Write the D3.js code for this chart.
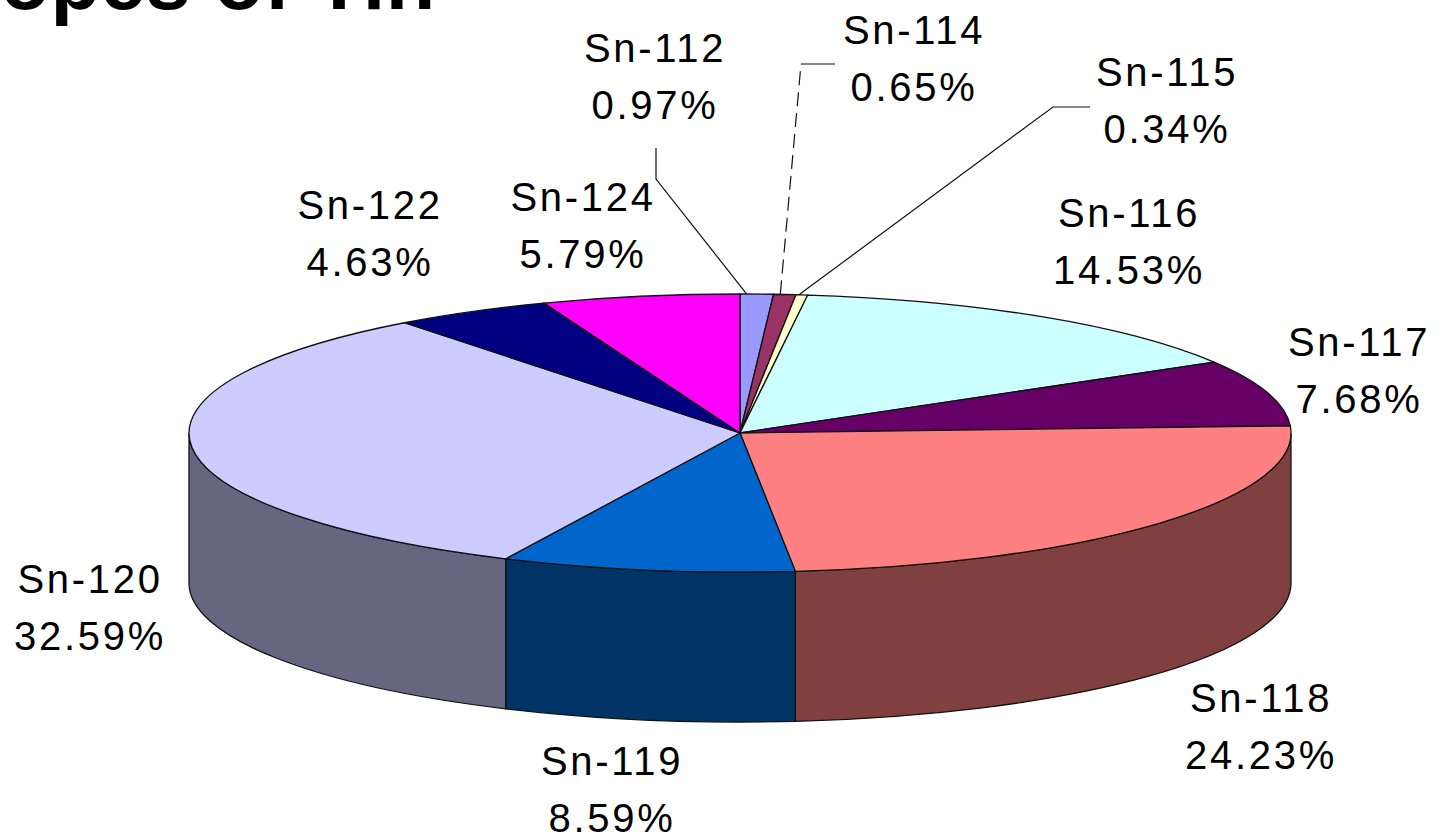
<!DOCTYPE html>
<html>
<head>
<meta charset="utf-8">
<script src="https://d3js.org/d3.v7.min.js"></script>
<style>
  html, body { margin:0; padding:0; background:#fff; overflow:hidden; }
  svg { display:block; }
  text { font-family:"Liberation Sans", Arial, sans-serif; fill:#000; }
  .lbl { font-size:40px; letter-spacing:2.7px; text-anchor:middle; }
  .title { font-size:81px; font-weight:bold; letter-spacing:0.4px; }
</style>
</head>
<body>
<svg id="chart" width="1439" height="836"></svg>
<script>
const isotopes = ["Sn-112","Sn-114","Sn-115","Sn-116","Sn-117","Sn-118","Sn-119","Sn-120","Sn-122","Sn-124"];
const abundance = [0.97,0.65,0.34,14.53,7.68,24.23,8.59,32.59,4.63,5.79];
const topColors = ["#9999ff","#993366","#ffffcc","#ccffff","#660066","#ff8080","#0066cc","#ccccff","#000080","#ff00ff"];
const sideColors = ["#666699","#662244","#aaaa88","#88aaaa","#440044","#804040","#003366","#666680","#000055","#aa00aa"];

// label centres, hand placed
const labelX = [655,914,1167,1129,1359,1261,612,90,370,583];
const labelY = [62,44,86,227,356,712,775,593,219,211];

const W = 1439, H = 836;
const cx = 740, cy = 433, rx = 551, ry = 139, depth = 150;
const k = ry / rx;

const svg = d3.select("#chart").attr("viewBox",`0 0 ${W} ${H}`);

svg.append("text")
  .attr("class","title")
  .attr("x",-145)
  .attr("y",9)
  .text("Isotopes of Tin");

const pie = d3.pie().sort(null).value(d => d.v);
const slices = pie(isotopes.map((name,i) => ({name, v:abundance[i], i})));

const g = svg.append("g")
  .attr("transform",`translate(${cx},${cy}) scale(1,${k})`);

// ───── SIDE WALL ─────
const dy = depth / k;
const sidePath = (a0,a1) => {
  const p = d3.path();
  p.arc(0,0,rx,a0 - Math.PI/2,a1 - Math.PI/2);
  p.lineTo(rx*Math.cos(a1 - Math.PI/2),rx*Math.sin(a1 - Math.PI/2) + dy);
  p.arc(0,dy,rx,a1 - Math.PI/2,a0 - Math.PI/2,true);
  p.closePath();
  return p.toString();
};

g.selectAll(".side")
  .data(slices.filter(d => d.endAngle > Math.PI/2 && d.startAngle < Math.PI*1.5))
  .join("path")
  .attr("class","side")
  .attr("d",d => sidePath(Math.max(d.startAngle,Math.PI/2),Math.min(d.endAngle,Math.PI*1.5)))
  .attr("fill",d => sideColors[d.data.i])
  .attr("stroke","#111")
  .attr("stroke-width",1.3)
  .attr("vector-effect","non-scaling-stroke");

// ───── TOP FACE ─────
const arc = d3.arc().innerRadius(0).outerRadius(rx);

g.selectAll(".top")
  .data(slices)
  .join("path")
  .attr("class","top")
  .attr("d",arc)
  .attr("fill",d => topColors[d.data.i])
  .attr("stroke","#111")
  .attr("stroke-width",1.3)
  .attr("vector-effect","non-scaling-stroke");

// ───── LEADERS ─────
const edgePoint = (d,f) => {
  const a = d.startAngle + (d.endAngle - d.startAngle) * f;
  return [cx + rx*Math.sin(a),cy - ry*Math.cos(a)];
};
const leaders = [
  {i:0, f:0.2, pts:[[656,179],[656,148]], dash:null, tail:null},
  {i:1, f:0.3, pts:[[801,64]], dash:"14,7", tail:[835,64]},
  {i:2, f:0.25, pts:[[1053,107],[1090,107]], dash:null, tail:null}
];
leaders.forEach(l => {
  const pts = [edgePoint(slices[l.i],l.f),...l.pts];
  svg.append("polyline")
    .attr("points",pts.map(p => p.join(",")).join(" "))
    .attr("fill","none")
    .attr("stroke","#111")
    .attr("stroke-width",1.2)
    .attr("stroke-dasharray",l.dash);
  if (l.tail) {
    svg.append("polyline")
      .attr("points",[pts[pts.length-1],l.tail].map(p => p.join(",")).join(" "))
      .attr("fill","none")
      .attr("stroke","#111")
      .attr("stroke-width",1.2);
  }
});

// ───── LABELS ─────
const labels = svg.selectAll(".lbl")
  .data(slices)
  .join("text")
  .attr("class","lbl")
  .attr("transform",d => `translate(${labelX[d.data.i]},${labelY[d.data.i]})`);

labels.append("tspan").attr("x",0).attr("y",0).text(d => d.data.name);
labels.append("tspan").attr("x",0).attr("y",57).text(d => d.data.v.toFixed(2) + "%");
</script>
</body>
</html>
